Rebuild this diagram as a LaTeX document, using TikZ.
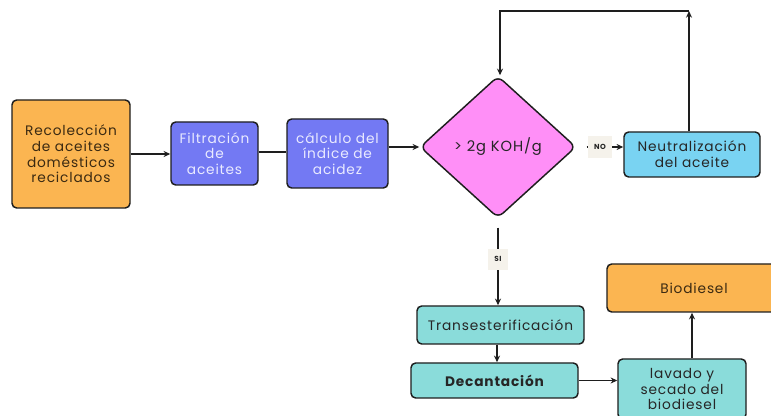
\documentclass[tikz,border=0pt]{standalone}
\usepackage{fontspec}
\setmainfont{Poppins}[LetterSpace=6]
\usetikzlibrary{shapes.geometric,arrows.meta}
\definecolor{corange}{HTML}{FBB551}
\definecolor{cviolet}{HTML}{7379F3}
\definecolor{cpink}{HTML}{FF8FF7}
\definecolor{csky}{HTML}{79D3F2}
\definecolor{cteal}{HTML}{8ADCDA}
\definecolor{cbeige}{HTML}{F5F2EB}
\definecolor{cborder}{HTML}{1E1E1E}
\definecolor{ctext}{HTML}{262626}
\definecolor{cbrown}{HTML}{3B2A12}
\definecolor{clight}{HTML}{E9EAFF}
\tikzset{
  box/.style={draw=cborder, line width=1.1pt, rounded corners=3.5pt, align=center,
    font=\fontsize{10.3}{11.8}\selectfont, text=ctext, inner sep=0pt},
  conn/.style={draw=cborder, line width=1.1pt},
  arr/.style={conn, -{Stealth[length=5pt,width=4.5pt]}},
  lbl/.style={fill=cbeige, font=\fontsize{5.5}{6}\selectfont\bfseries, text=ctext,
    inner xsep=4.5pt, inner ysep=6pt},
}
\begin{document}
\begin{tikzpicture}[x=0.75pt,y=-0.75pt]
\useasboundingbox (0,0) rectangle (771,416);
\clip (0,0) rectangle (771,416);
\fill[white] (0,0) rectangle (771,416);
% nodes
\node[box, fill=corange, text=cbrown, minimum width=88.5pt, minimum height=81pt] (rec) at (71,154)
  {Recolección\\de aceites\\domésticos\\reciclados};
\node[box, fill=cviolet, text=clight, minimum width=65.25pt, minimum height=47.25pt] (fil) at (214.5,153.5)
  {Filtración\\de\\aceites};
\node[box, fill=cviolet, text=clight, minimum width=75.75pt, minimum height=51.75pt] (cal) at (337.5,153.5)
  {cálculo del\\índice de\\acidez};
\node[box, shape=diamond, rounded corners=5pt, fill=cpink, minimum width=117pt, minimum height=106.5pt, font=\fontsize{11}{13}\selectfont] (dia) at (498,147)
  {> 2g KOH/g};
\node[box, fill=csky, minimum width=102pt, minimum height=33.75pt] (neu) at (692,154.5)
  {Neutralización\\del aceite};
\node[box, fill=cteal, minimum width=125.25pt, minimum height=28.5pt] (tra) at (500.5,325)
  {Transesterificación};
\node[box, fill=cteal, minimum width=125.25pt, minimum height=26.25pt, font=\fontsize{10.3}{11.8}\selectfont\bfseries] (dec) at (494.5,380.5)
  {Decantación};
\node[box, fill=cteal, minimum width=96pt, minimum height=45pt] (lav) at (682,389)
  {lavado y\\secado del\\biodiesel};
\node[box, fill=corange, text=cbrown, minimum width=130.5pt, minimum height=36pt] (bio) at (694,288)
  {Biodiesel};
% helper coordinates
\coordinate (td) at (497,0);
\coordinate (lb) at (692,0);
\coordinate (loopR) at (689,11);
\coordinate (loopL) at (500,11);
% connectors
\draw[arr] (rec.east |- 0,154) -- (fil.west |- 0,154);
\draw[conn] (fil.east |- 0,152) -- (cal.west |- 0,152);
\draw[arr] (cal.east |- 0,147) -- (dia.west);
\draw[arr, shorten <=7.5pt] (dia.east) -- node[lbl]{NO} (neu.west |- dia.east);
\draw[arr, shorten <=6.75pt] (dia.south) -- node[lbl, pos=0.47]{SI} (tra.north -| dia.south);
\draw[arr] (tra.south -| td) -- (dec.north -| td);
\draw[arr] (dec.east) -- (dec.east -| lav.west);
\draw[arr] (lav.north -| lb) -- (bio.south -| lb);
\draw[arr] (neu.north -| loopR) -- (loopR);
\draw[arr] (loopR) -- (loopL) -- (dia.north -| loopL);
\end{tikzpicture}
\end{document}
